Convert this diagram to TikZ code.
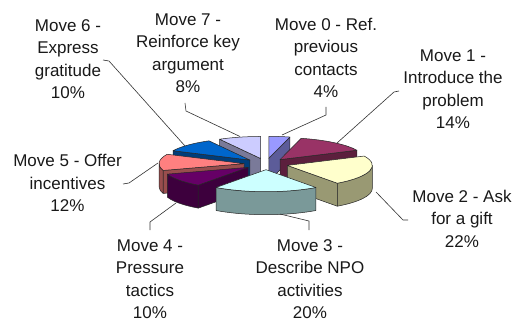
\documentclass[tikz,border=0pt]{standalone}
\usepackage{fontspec}
\setmainfont{Liberation Sans}
\definecolor{topA}{HTML}{9999FF}\definecolor{sideA}{HTML}{5C5C99}
\definecolor{topB}{HTML}{993366}\definecolor{sideB}{HTML}{5C1F3D}
\definecolor{topC}{HTML}{FFFFCC}\definecolor{sideC}{HTML}{999973}
\definecolor{topD}{HTML}{CCFFFF}\definecolor{sideD}{HTML}{7A9999}
\definecolor{topE}{HTML}{660066}\definecolor{sideE}{HTML}{3D003D}
\definecolor{topF}{HTML}{FF8080}\definecolor{sideF}{HTML}{994D4D}
\definecolor{topG}{HTML}{0066CC}\definecolor{sideG}{HTML}{003D7A}
\definecolor{topH}{HTML}{CCCCFF}\definecolor{sideH}{HTML}{7A7A99}
\newcommand{\pcx}{266}
\newcommand{\pcy}{160}
\newcommand{\prx}{85}
\newcommand{\pry}{22}
\newcommand{\pex}{22}
\newcommand{\pdep}{23}
\newcommand{\pieset}[2]{%
  \pgfmathsetmacro{\alo}{#1}\pgfmathsetmacro{\ahi}{#2}%
  \pgfmathsetmacro{\sm}{(#1+#2)/2}%
  \pgfmathsetmacro{\ax}{\pcx+\pex*cos(\sm)}%
  \pgfmathsetmacro{\ay}{\pcy+\pex*\pry/\prx*sin(\sm)}%
  \pgfmathsetmacro{\lx}{\ax+\prx*cos(#1)}%
  \pgfmathsetmacro{\ly}{\ay+\pry*sin(#1)}%
  \pgfmathsetmacro{\hx}{\ax+\prx*cos(#2)}%
  \pgfmathsetmacro{\hy}{\ay+\pry*sin(#2)}%
}
\newcommand{\pieflo}[1]{\filldraw[fill=#1,pieedge] (\ax,\ay) -- (\lx,\ly) -- (\lx,\ly-\pdep) -- (\ax,\ay-\pdep) -- cycle;}
\newcommand{\piefhi}[1]{\filldraw[fill=#1,pieedge] (\ax,\ay) -- (\hx,\hy) -- (\hx,\hy-\pdep) -- (\ax,\ay-\pdep) -- cycle;}
\newcommand{\pieouter}[3]{%
  \pgfmathsetmacro{\sx}{\ax+\prx*cos(#1)}%
  \pgfmathsetmacro{\sy}{\ay+\pry*sin(#1)}%
  \filldraw[fill=#3,pieedge] (\sx,\sy) arc[start angle=#1,end angle=#2,x radius=\prx pt,y radius=\pry pt] -- ++(0,-\pdep) arc[start angle=#2,end angle=#1,x radius=\prx pt,y radius=\pry pt] -- cycle;}
\newcommand{\pietop}[1]{\filldraw[fill=#1,pieedge] (\ax,\ay) -- (\lx,\ly) arc[start angle=\alo,end angle=\ahi,x radius=\prx pt,y radius=\pry pt] -- cycle;}
\begin{document}
\begin{tikzpicture}[x=1pt,y=1pt,
  pieedge/.style={draw=black!85,line width=0.5pt,line join=round},
  lab/.style={align=center,inner sep=0pt,font=\fontsize{17}{22.5}\selectfont,text=black!90},
  leader/.style={draw=black!80,line width=0.6pt}]
\fill[white] (0,0) rectangle (516,324);
\useasboundingbox (0,0) rectangle (516,324);
% Move 0
\pieset{75.6}{90}\pieflo{sideA}\pietop{topA}
% Move 7
\pieset{90}{118.8}\piefhi{sideH}\pietop{topH}
% Move 1
\pieset{25.2}{75.6}\pieflo{sideB}\pietop{topB}
% Move 6
\pieset{118.8}{154.8}\piefhi{sideG}\pietop{topG}
% Move 5
\pieset{154.8}{198}\piefhi{sideF}\pieouter{180}{198}{sideF}\pietop{topF}
% Move 2
\pieset{-54}{25.2}\pieflo{sideC}\pieouter{-54}{0}{sideC}\pietop{topC}
% Move 4
\pieset{198}{234}\piefhi{sideE}\pieouter{198}{234}{sideE}\pietop{topE}
% Move 3
\pieset{234}{306}\pieouter{234}{306}{sideD}\pietop{topD}
% labels
\node[lab] (l6) at (68,265) {Move 6 -\\Express\\gratitude\\10\%};
\node[lab] (l7) at (188,271) {Move 7 -\\Reinforce key\\argument\\8\%};
\node[lab] (l0) at (326,266) {Move 0 - Ref.\\previous\\contacts\\4\%};
\node[lab] (l1) at (453,235) {Move 1 -\\Introduce the\\problem\\14\%};
\node[lab] (l2) at (462,105.5) {Move 2 - Ask\\for a gift\\22\%};
\node[lab] (l3) at (310,45) {Move 3 -\\Describe NPO\\activities\\20\%};
\node[lab] (l4) at (150,45) {Move 4 -\\Pressure\\tactics\\10\%};
\node[lab] (l5) at (67.5,141) {Move 5 - Offer\\incentives\\12\%};
% leader coordinates
\coordinate (k6) at (103,264); \coordinate (b6) at (109,263); \coordinate (p6) at (185,178);
\coordinate (k7) at (185,221); \coordinate (b7) at (186,213); \coordinate (p7) at (240,187.5);
\coordinate (k0) at (326,217); \coordinate (b0) at (326,209); \coordinate (p0) at (282,189);
\coordinate (k1) at (399,233); \coordinate (b1) at (394,232); \coordinate (p1) at (337,181);
\coordinate (k2) at (408,104); \coordinate (b2) at (403,104); \coordinate (p2) at (376,132);
\coordinate (k3) at (309,94);  \coordinate (b3) at (309,103); \coordinate (p3) at (280,110);
\coordinate (k4) at (150,94);  \coordinate (b4) at (150,102); \coordinate (p4) at (176,121);
\coordinate (k5) at (123,140); \coordinate (b5) at (129,141); \coordinate (p5) at (158,161);
\foreach \i in {6,7,0,1,2,3,4,5} {\draw[leader] (k\i) -- (b\i) -- (p\i);}
\end{tikzpicture}
\end{document}
